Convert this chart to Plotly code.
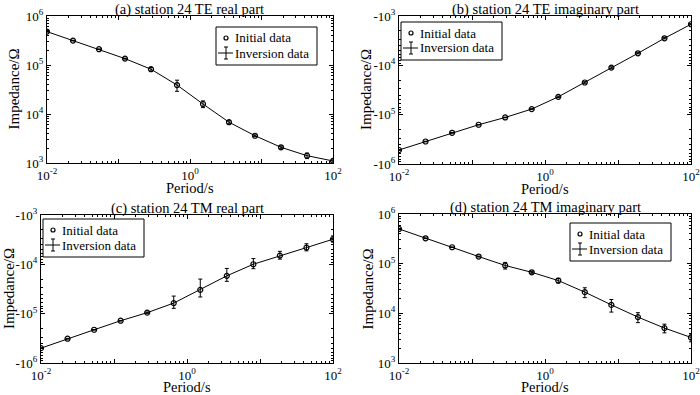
import plotly.graph_objects as go

# ---------------- data ----------------
periods = [0.01, 0.0231, 0.0534, 0.1233, 0.2848, 0.6579, 1.520, 3.511, 8.111, 18.74, 43.29, 100.0]

te_real = [4.8e5, 3.15e5, 2.1e5, 1.35e5, 8.2e4, 3.9e4, 1.6e4, 6.8e3, 3.6e3, 2.09e3, 1.41e3, 1.1e3]
te_real_err = [8e3, 5e3, 3e3, 3e3, 7e3, 1.0e4, 2.5e3, 5e2, 1.5e2, 1.3e2, 1.8e2, 6e1]

te_imag = [-5.2e5, -3.5e5, -2.33e5, -1.6e5, -1.14e5, -7.7e4, -4.35e4, -2.23e4, -1.11e4, -5.7e3, -2.83e3, -1.47e3]
te_imag_err = [8e3, 5e3, 3e3, 2e3, 1.5e3, 1e3, 1.5e3, 8e2, 4e2, 1.5e2, 8e1, 4e1]

tm_real = [-5.0e5, -3.22e5, -2.12e5, -1.39e5, -9.55e4, -6.1e4, -3.29e4, -1.71e4, -9.95e3, -6.65e3, -4.58e3, -3.1e3]
tm_real_err = [8e3, 5e3, 3e3, 2e3, 3e3, 1.7e4, 1.3e4, 5e3, 2.3e3, 1.2e3, 7.5e2, 4.4e2]

tm_imag = [5.0e5, 3.24e5, 2.14e5, 1.39e5, 9.2e4, 6.7e4, 4.57e4, 2.67e4, 1.48e4, 8.4e3, 5.05e3, 3.27e3]
tm_imag_err = [8e3, 5e3, 3e3, 3e3, 1.4e4, 3e3, 5e3, 6e3, 4.2e3, 1.9e3, 1.0e3, 6e2]

titles = ["(a) station 24 TE real part", "(b) station 24 TE imaginary part",
          "(c) station 24 TM real part", "(d) station 24 TM imaginary part"]
x_tick_vals = [0.01, 0.1, 1, 10, 100]
x_tick_text = ["10<sup>-2</sup>", "", "10<sup>0</sup>", "", "10<sup>2</sup>"]
y_tick_vals = [1e3, 1e4, 1e5, 1e6]
y_tick_text_pos = ["10<sup>3</sup>", "10<sup>4</sup>", "10<sup>5</sup>", "10<sup>6</sup>"]
y_tick_text_neg = ["-10<sup>3</sup>", "-10<sup>4</sup>", "-10<sup>5</sup>", "-10<sup>6</sup>"]
legend_names = ["Initial data", "Inversion data"]
x_title = "Period/s"
y_title = "Impedance/Ω"

# ---------------- layout ----------------
W, H = 700, 395
FONT = "Liberation Serif, Times New Roman, serif"


def px(x):
    return x / W


def py(y):
    return 1 - y / H


panels = [
    dict(vals=te_real, err=te_real_err, px=(47, 333), py=(16, 163), leg=(216, 27), ytx=13),
    dict(vals=te_imag, err=te_imag_err, px=(399, 691), py=(16, 164), leg=(401, 22), ytx=366),
    dict(vals=tm_real, err=tm_real_err, px=(41, 333), py=(215, 363), leg=(43, 219), ytx=9),
    dict(vals=tm_imag, err=tm_imag_err, px=(399, 691), py=(214, 363), leg=(570, 223), ytx=367),
]

minor_x = [m * 10.0 ** e for e in range(-2, 2) for m in range(2, 10)]
minor_y = [m * 10.0 ** e for e in range(3, 6) for m in range(2, 10)]

fig = go.Figure()
annotations = []
shapes = []
LEG_W, LEG_H = 101, 38

for i, p in enumerate(panels):
    n = i + 1
    xa = "x" if n == 1 else f"x{n}"
    ya = "y" if n == 1 else f"y{n}"
    neg = p["vals"][0] < 0
    mag = [abs(v) for v in p["vals"]]

    fig.add_trace(go.Scatter(
        x=periods, y=mag, mode="lines", name=legend_names[1],
        line=dict(color="black", width=1),
        error_y=dict(type="data", array=p["err"], color="black", thickness=1, width=2),
        xaxis=xa, yaxis=ya, showlegend=False))
    fig.add_trace(go.Scatter(
        x=periods, y=mag, mode="markers", name=legend_names[0],
        marker=dict(symbol="circle-open", size=5, color="black", line=dict(width=1.2)),
        xaxis=xa, yaxis=ya, showlegend=False))

    x0, x1 = p["px"]
    y0, y1 = p["py"]
    axis_common = dict(type="log", showgrid=False, zeroline=False, showline=True,
                       linecolor="black", linewidth=1, mirror="allticks",
                       ticks="inside", ticklen=4, tickcolor="black", automargin=False,
                       ticklabeloverflow="allow",
                       tickfont=dict(family=FONT, size=13, color="black"))
    fig.layout[("xaxis" if n == 1 else f"xaxis{n}")] = dict(
        domain=[px(x0), px(x1)], anchor=ya, range=[-2, 2],
        tickvals=x_tick_vals, ticktext=x_tick_text,
        minor=dict(tickvals=minor_x, ticks="inside", ticklen=2, tickcolor="black"),
        **axis_common)
    fig.layout[("yaxis" if n == 1 else f"yaxis{n}")] = dict(
        domain=[py(y1), py(y0)], anchor=xa, range=[6, 3] if neg else [3, 6],
        tickvals=y_tick_vals, ticktext=y_tick_text_neg if neg else y_tick_text_pos,
        minor=dict(tickvals=minor_y, ticks="inside", ticklen=2, tickcolor="black"),
        **axis_common)

    # manual legend box
    lx, ly = p["leg"]
    shapes.append(dict(type="rect", xref="paper", yref="paper",
                       x0=px(lx), x1=px(lx + LEG_W), y0=py(ly + LEG_H), y1=py(ly),
                       line=dict(color="black", width=1), fillcolor="white", layer="above"))
    r1, r2 = ly + 11, ly + 26
    sx = lx + 10
    shapes.append(dict(type="circle", xref="paper", yref="paper",
                       x0=px(sx - 2), x1=px(sx + 2), y0=py(r1 + 2), y1=py(r1 - 2),
                       line=dict(color="black", width=1.2), layer="above"))
    shapes.append(dict(type="line", xref="paper", yref="paper",
                       x0=px(lx + 2), x1=px(lx + 17), y0=py(r2), y1=py(r2),
                       line=dict(color="black", width=1), layer="above"))
    shapes.append(dict(type="line", xref="paper", yref="paper",
                       x0=px(sx), x1=px(sx), y0=py(r2 - 6), y1=py(r2 + 6),
                       line=dict(color="black", width=1), layer="above"))
    for cy in (r2 - 6, r2 + 6):
        shapes.append(dict(type="line", xref="paper", yref="paper",
                           x0=px(sx - 2), x1=px(sx + 2), y0=py(cy), y1=py(cy),
                           line=dict(color="black", width=1), layer="above"))
    for txt, ry in ((legend_names[0], r1), (legend_names[1], r2)):
        annotations.append(dict(text=txt, x=px(lx + 17), y=py(ry),
                                xref="paper", yref="paper", showarrow=False,
                                xanchor="left", yanchor="middle",
                                font=dict(family=FONT, size=13, color="black")))

    cx = (x0 + x1) / 2
    annotations.append(dict(text=titles[i], x=px(cx), y=py(y0 - 7),
                            xref="paper", yref="paper", showarrow=False,
                            xanchor="center", yanchor="middle",
                            font=dict(family=FONT, size=14.5, color="black")))
    annotations.append(dict(text=x_title, x=px(cx), y=py(min(y1 + 25, H - 8)),
                            xref="paper", yref="paper", showarrow=False,
                            xanchor="center", yanchor="middle",
                            font=dict(family=FONT, size=14.5, color="black")))
    annotations.append(dict(text=y_title, x=px(p["ytx"]), y=py((y0 + y1) / 2),
                            xref="paper", yref="paper", showarrow=False, textangle=-90,
                            xanchor="center", yanchor="middle",
                            font=dict(family=FONT, size=15, color="black")))

fig.update_layout(width=W, height=H,
                  margin=dict(l=0, r=0, t=0, b=0, autoexpand=False),
                  paper_bgcolor="white", plot_bgcolor="white",
                  annotations=annotations, shapes=shapes, showlegend=False)

fig.write_html("out.html", config={"displayModeBar": False},
               post_script="document.body.style.margin='0';document.body.style.overflow='hidden';")
